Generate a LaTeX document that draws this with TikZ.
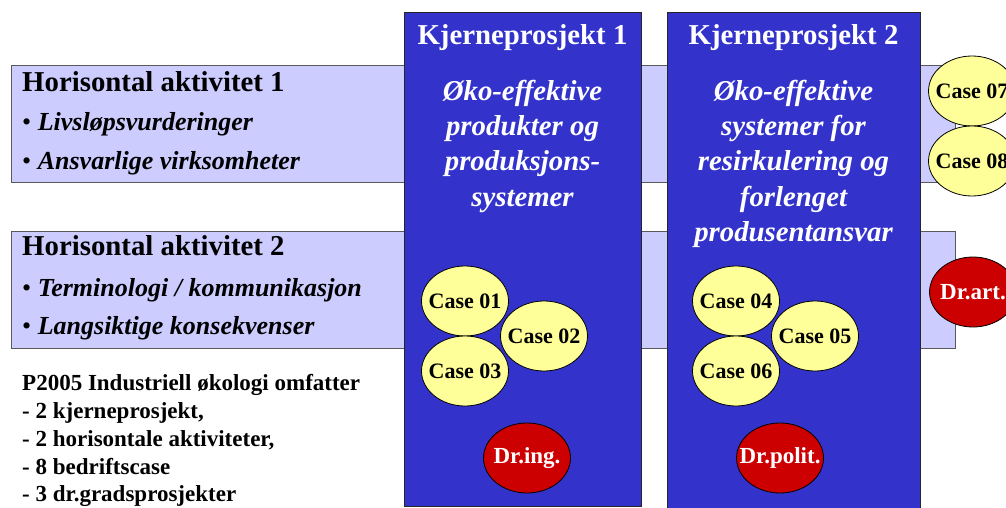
\documentclass[tikz,border=0pt]{standalone}
\usepackage{fontspec}
\setmainfont{Liberation Serif}
\definecolor{kpblue}{RGB}{51,51,204}
\definecolor{halilac}{RGB}{204,204,255}
\definecolor{caseyellow}{RGB}{255,255,153}
\definecolor{drred}{RGB}{204,0,0}
\usetikzlibrary{positioning, shapes.geometric}
\newcommand{\ovaltext}[1]{\makebox[0pt]{#1}}
\newcommand{\hbullet}{{\mdseries\textbullet}\ }

\begin{document}
\begin{tikzpicture}[
    x=1pt, y=-1pt,
    habox/.style={draw=black!65, line width=1.2pt, fill=halilac, anchor=north west, inner sep=0pt, minimum width=944pt, minimum height=117pt},
    kpbox/.style={draw=black!85, line width=1.2pt, fill=kpblue, anchor=north west, inner sep=0pt},
    hahead/.style={anchor=base west, inner sep=0pt, font=\fontsize{28.8}{34}\selectfont\bfseries},
    haitem/.style={anchor=base west, inner sep=0pt, font=\fontsize{26}{30}\selectfont\bfseries},
    kphead/.style={anchor=base, inner sep=0pt, text=white, font=\fontsize{28.8}{34}\selectfont\bfseries},
    kpdesc/.style={anchor=north, inner sep=0pt, align=center, text=white, font=\fontsize{28.8}{35.2}\selectfont\bfseries\itshape},
    oval/.style={ellipse, draw=black, line width=0.8pt, inner sep=0pt, minimum width=87pt, minimum height=70pt, font=\fontsize{22}{22}\selectfont\bfseries},
    case/.style={oval, fill=caseyellow},
    drgrad/.style={oval, fill=drred, text=white, font=\fontsize{23}{23}\selectfont\bfseries}
]
    \useasboundingbox (0,0) rectangle (1006,508);

    % horisontale aktiviteter
    \node[habox] (ha1) at (11,65) {};
    \node[hahead] (ha1head) at (22,92) {Horisontal aktivitet 1};
    \node[haitem] (ha1a) at (22,131) {\hbullet\textit{Livsløpsvurderinger}};
    \node[haitem] (ha1b) at (22,169) {\hbullet\textit{Ansvarlige virksomheter}};

    \node[habox] (ha2) at (11,231) {};
    \node[hahead] (ha2head) at (22,255) {Horisontal aktivitet 2};
    \node[haitem] (ha2a) at (22,296) {\hbullet\textit{Terminologi / kommunikasjon}};
    \node[haitem] (ha2b) at (22,334) {\hbullet\textit{Langsiktige konsekvenser}};

    \node[anchor=north west, inner sep=0pt, align=left, font=\fontsize{23}{27.9}\selectfont\bfseries] (summary) at (22,374)
        {P2005 Industriell økologi omfatter\\- 2 kjerneprosjekt,\\- 2 horisontale aktiviteter,\\- 8 bedriftscase\\- 3 dr.gradsprosjekter};

    % kjerneprosjekter
    \node[kpbox, minimum width=237pt, minimum height=494pt] (kp1) at (404,12) {};
    \node[kphead] (kp1head) at (522.5,45) {Kjerneprosjekt 1};
    \node[kpdesc] (kp1desc) at (522.5,80) {Øko-effektive\\produkter og\\produksjons-\\systemer};

    \node[kpbox, minimum width=253pt, minimum height=497pt] (kp2) at (667,12) {};
    \node[kphead] (kp2head) at (793.5,45) {Kjerneprosjekt 2};
    \node[kpdesc] (kp2desc) at (793.5,80) {Øko-effektive\\systemer for\\resirkulering og\\forlenget\\produsentansvar};

    % bedriftscase og dr.grader
    \node[case] (c01) at (465,301) {\ovaltext{Case 01}};
    \node[case] (c02) at (544,336) {\ovaltext{Case 02}};
    \node[case] (c03) at (465,371) {\ovaltext{Case 03}};
    \node[drgrad] (dring) at (527,458) {\ovaltext{Dr.ing.}};

    \node[case] (c04) at (736,301) {\ovaltext{Case 04}};
    \node[case] (c05) at (815,336) {\ovaltext{Case 05}};
    \node[case] (c06) at (736,371) {\ovaltext{Case 06}};
    \node[drgrad] (drpolit) at (780,458) {\ovaltext{Dr.polit.}};

    \node[case] (c07) at (972,91) {\ovaltext{Case 07}};
    \node[case] (c08) at (972,161) {\ovaltext{Case 08}};
    \node[drgrad] (drart) at (973,292) {\ovaltext{Dr.art.}};
\end{tikzpicture}
\end{document}
